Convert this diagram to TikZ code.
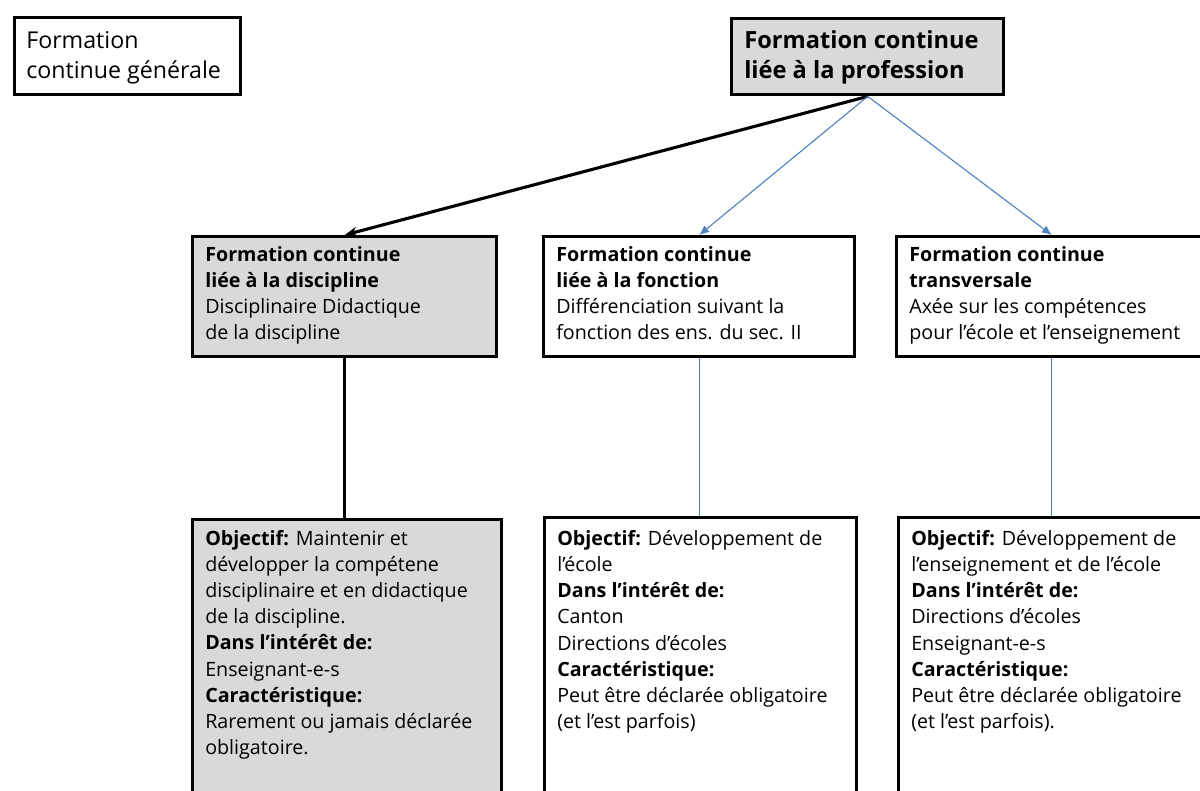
\documentclass[tikz,border=0pt]{standalone}
\usepackage{fontspec}
\setmainfont{Open Sans}
\usetikzlibrary{arrows.meta}
\definecolor{boxgray}{HTML}{D9D9D9}
\definecolor{linkblue}{HTML}{4F81BD}
\begin{document}
\begin{tikzpicture}[x=0.025cm, y=-0.025cm, box/.style={draw, line width=2.4pt, rectangle, anchor=north west, inner sep=0pt},txt/.style={anchor=north west, align=left, inner sep=0pt, font=\fontsize{14}{18.6}\selectfont},bigtxt/.style={txt, font=\fontsize{16.5}{21.3}\selectfont}]
\useasboundingbox (0,0) rectangle (1200,790);
\begin{scope}[every node/.style={box}]
\node[minimum width=5.65cm, minimum height=1.925cm] (gen) at (13,16) {};%general
\node[fill=boxgray, minimum width=6.8cm, minimum height=1.9cm] (prof) at (730,17) {};%profession
\node[fill=boxgray, minimum width=7.6cm, minimum height=3cm] (disc) at (191,235) {};%discipline
\node[minimum width=7.775cm, minimum height=3cm] (fonc) at (542,235) {};%fonction
\node[minimum width=7.75cm, minimum height=3cm] (trans) at (895,235) {};%transversale
\node[fill=boxgray, minimum width=7.725cm, minimum height=7.05cm] (obj1) at (191,518) {};%objectif 1
\node[minimum width=7.8cm, minimum height=7.1cm] (obj2) at (543,516) {};%objectif 2
\node[minimum width=7.7cm, minimum height=7.1cm] (obj3) at (897,516) {};%objectif 3
\end{scope}
\node[bigtxt] (gentxt) at ([shift={(13,15)}]gen.north west) {Formation\\continue générale};
\node[bigtxt, font=\fontsize{16.8}{21.3}\selectfont\bfseries] (proftxt) at ([shift={(14,13)}]prof.north west) {Formation continue\\liée à la profession};
\node[txt] (disctxt) at ([shift={(14,11)}]disc.north west) {\textbf{Formation continue}\\\textbf{liée à la discipline}\\Disciplinaire Didactique\\de la discipline};
\node[txt] (fonctxt) at ([shift={(14,11)}]fonc.north west) {\textbf{Formation continue}\\\textbf{liée à la fonction}\\Différenciation suivant la\\fonction des ens. du sec. II};
\node[txt] (transtxt) at ([shift={(14,11)}]trans.north west) {\textbf{Formation continue}\\\textbf{transversale}\\Axée sur les compétences\\pour l’école et l’enseignement};
\node[txt] (obj1txt) at ([shift={(14,12)}]obj1.north west) {\textbf{Objectif:} Maintenir et\\développer la compétene\\disciplinaire et en didactique\\de la discipline.\\\textbf{Dans l’intérêt de:}\\Enseignant-e-s\\\textbf{Caractéristique:}\\Rarement ou jamais déclarée\\obligatoire.};
\node[txt] (obj2txt) at ([shift={(14,14)}]obj2.north west) {\textbf{Objectif:} Développement de\\l’école\\\textbf{Dans l’intérêt de:}\\Canton\\Directions d’écoles\\\textbf{Caractéristique:}\\Peut être déclarée obligatoire\\(et l’est parfois)};
\node[txt] (obj3txt) at ([shift={(14,14)}]obj3.north west) {\textbf{Objectif:} Développement de\\l’enseignement et de l’école\\\textbf{Dans l’intérêt de:}\\Directions d’écoles\\Enseignant-e-s\\\textbf{Caractéristique:}\\Peut être déclarée obligatoire\\(et l’est parfois).};
\begin{scope}[line width=2.2pt]
\draw[-{Stealth[length=9pt,width=7pt]}] (prof.south) -- (disc.north);
\draw (disc.south) -- (disc.south |- obj1.north);
\end{scope}
\begin{scope}[draw=linkblue, line width=0.8pt, -{Latex[length=7pt,width=6pt]}]
\draw (prof.south) -- (fonc.north);
\draw (prof.south) -- (trans.north);
\draw[-] (fonc.south) -- (fonc.south |- obj2.north);
\draw[-] (trans.south) -- (trans.south |- obj3.north);
\end{scope}
\end{tikzpicture}
\end{document}
